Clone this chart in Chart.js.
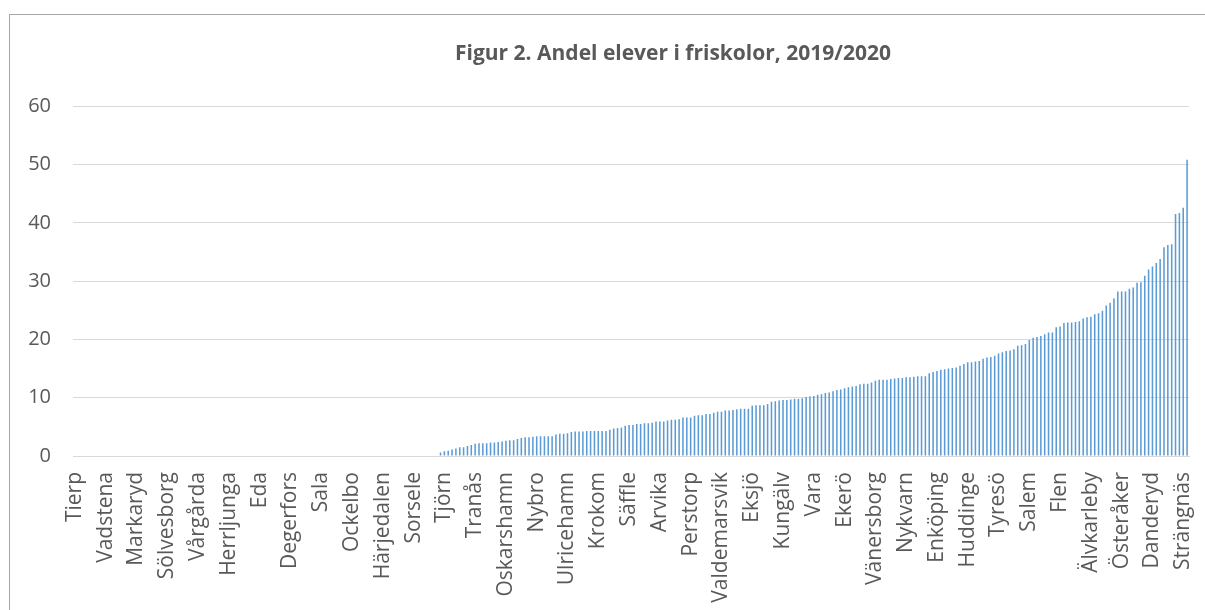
<!DOCTYPE html>
<html>
<head>
<meta charset="utf-8">
<title>Figur 2. Andel elever i friskolor, 2019/2020</title>
<script src="https://cdn.jsdelivr.net/npm/chart.js@4"></script>
<style>
  body { margin: 0; overflow: hidden; background: #fff; }
  #frame { position: absolute; left: 9px; top: 14px; width: 1340px; height: 620px; border: 1px solid #a6a6a6; }
  #chart { position: absolute; left: 10px; top: 15px; }
</style>
</head>
<body>
<div id="frame"></div>
<canvas id="chart" width="1326" height="595"></canvas>
<script>

// Chart title
var chartTitle = 'Figur 2. Andel elever i friskolor, 2019/2020';

// Municipality names that are printed on the x axis (every 8th category)
var tickLabels = [
    'Tierp', 'Vadstena', 'Markaryd', 'Sölvesborg', 'Vårgårda', 'Herrljunga',
    'Eda', 'Degerfors', 'Sala', 'Ockelbo', 'Härjedalen', 'Sorsele', 'Tjörn',
    'Tranås', 'Oskarshamn', 'Nybro', 'Ulricehamn', 'Krokom', 'Säffle', 'Arvika',
    'Perstorp', 'Valdemarsvik', 'Eksjö', 'Kungälv', 'Vara', 'Ekerö',
    'Vänersborg', 'Nykvarn', 'Enköping', 'Huddinge', 'Tyresö', 'Salem', 'Flen',
    'Älvkarleby', 'Österåker', 'Danderyd', 'Strängnäs'
];
var labelStep = 8;

// Share of pupils in free schools (%), municipalities sorted ascending
// 95 municipalities without any pupils in free schools
var zeroShare = [
    0,0,0,0,0,0,0,0,0,0, 0,0,0,0,0,0,0,0,0,0,
    0,0,0,0,0,0,0,0,0,0, 0,0,0,0,0,0,0,0,0,0,
    0,0,0,0,0,0,0,0,0,0, 0,0,0,0,0,0,0,0,0,0,
    0,0,0,0,0,0,0,0,0,0, 0,0,0,0,0,0,0,0,0,0,
    0,0,0,0,0,0,0,0,0,0, 0,0,0,0,0
];
var lowShare = [
    0.6, 0.8, 0.9, 1.1, 1.3, 1.5, 1.5, 1.7, 1.9, 2.1,
    2.2, 2.2, 2.2, 2.3, 2.3, 2.4, 2.5, 2.6, 2.7, 2.7,
    2.9, 3.1, 3.2, 3.2, 3.3, 3.4, 3.4, 3.4, 3.4, 3.4,
    3.7, 3.8, 3.8, 3.9, 4.1, 4.2, 4.2, 4.2, 4.3, 4.3,
    4.3, 4.3, 4.3, 4.3, 4.5, 4.7, 4.8, 4.9, 5.2, 5.3,
    5.3, 5.5, 5.5, 5.6, 5.6, 5.7, 5.9, 5.9, 5.9, 6.1,
    6.2, 6.2, 6.3, 6.6, 6.6, 6.6, 6.9, 7.0
];
var midShare = [
    7.0, 7.2, 7.2, 7.4, 7.6, 7.6, 7.8, 7.8, 7.9, 8.0,
    8.1, 8.1, 8.1, 8.6, 8.7, 8.7, 8.7, 8.9, 9.3, 9.4,
    9.5, 9.6, 9.6, 9.7, 9.8, 9.8, 9.9, 10.1, 10.2, 10.3,
    10.5, 10.6, 10.8, 10.9, 11.1, 11.3, 11.4, 11.6, 11.8, 11.9,
    12.0, 12.3, 12.4, 12.4, 12.6, 12.9, 13.1, 13.1, 13.1, 13.2,
    13.3, 13.4, 13.4, 13.5, 13.5, 13.6, 13.7, 13.7, 13.7, 14.2
];
var highShare = [
    14.4, 14.6, 14.8, 14.9, 15.0, 15.1, 15.2, 15.5, 15.8, 16.1,
    16.1, 16.2, 16.3, 16.7, 16.9, 17.0, 17.2, 17.6, 17.8, 18.0,
    18.1, 18.3, 18.9, 19.0, 19.2, 19.9, 20.3, 20.4, 20.6, 20.9,
    21.2, 21.2, 22.1, 22.2, 22.8, 22.9, 22.9, 23.0, 23.1, 23.6,
    23.8, 23.9, 24.3, 24.5, 24.9, 25.8, 26.3, 27.0, 28.2, 28.2,
    28.2, 28.7, 28.9, 29.7, 29.8, 30.9, 32.0, 32.5, 33.1, 33.8,
    35.8, 36.2, 36.3, 41.5, 41.7, 42.6, 50.8
];

var shares = zeroShare.concat(lowShare, midShare, highShare);

// one category per municipality, only every 8th one has a printed name
var categories = [];
for (var i = 0; i < shares.length; i++) {
    categories.push(i % labelStep === 0 ? tickLabels[i / labelStep] : '');
}

var textColor = '#595959';
var gridColor = '#d9d9d9';
Chart.defaults.font.family = '"Open Sans", sans-serif';

var ctx = document.getElementById('chart');
var barChart = new Chart(ctx, {
    type: 'bar',
    data: {
        labels: categories,
        datasets: [{
            label: 'Andel elever i friskolor',
            data: shares,
            backgroundColor: '#5B9BD5',
            borderWidth: 0,
            categoryPercentage: 0.4,
            barPercentage: 1.0
        }]
    },
    options: {
        responsive: false,
        animation: false,
        layout: { padding: 0 },
        plugins: {
            legend: { display: false },
            tooltip: { enabled: false },
            title: {
                display: true,
                text: chartTitle,
                color: textColor,
                font: { size: 21, weight: 'bold' },
                padding: { top: 26, bottom: 40 }
            }
        },
        scales: {
            x: {
                offset: true,
                grid: { display: false, drawTicks: false },
                border: { display: true, color: gridColor, width: 1 },
                ticks: {
                    autoSkip: false,
                    minRotation: 90,
                    maxRotation: 90,
                    padding: 16,
                    color: textColor,
                    font: { size: 21 }
                },
                afterFit: function(scale) { scale.height = 154; }
            },
            y: {
                min: 0,
                max: 60,
                grid: { color: gridColor, lineWidth: 1, drawTicks: false },
                border: { display: false },
                ticks: {
                    stepSize: 10,
                    padding: 22,
                    color: textColor,
                    font: { size: 20 }
                },
                afterFit: function(scale) { scale.width = 63; }
            },
            // empty space on the right, the chart frame goes on past the window
            rightSpace: {
                position: 'right',
                min: 0,
                max: 60,
                grid: { display: false, drawTicks: false },
                border: { display: false },
                ticks: { display: false },
                afterFit: function(scale) { scale.width = 147; }
            }
        }
    }
});
</script>
</body>
</html>
